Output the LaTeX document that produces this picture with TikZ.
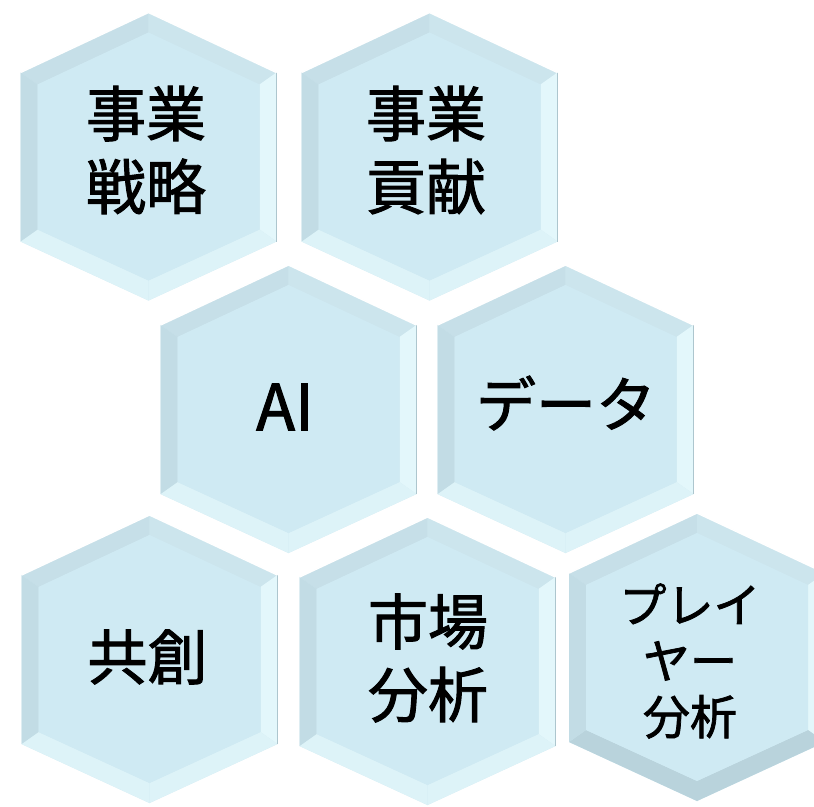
\documentclass[tikz,border=0pt]{standalone}
\usepackage{fontspec}
\newfontfamily\jpfont[FakeBold=1.6]{Noto Sans CJK JP}
\usetikzlibrary{calc}
\definecolor{hexbase}{HTML}{CFEAF3}
\definecolor{bevTL}{HTML}{C6DFE8}
\definecolor{bevTR}{HTML}{CCE5ED}
\definecolor{bevR}{HTML}{E3F7FB}
\definecolor{bevL}{HTML}{C2DCE5}
\definecolor{bevBL}{HTML}{DDF3F8}
\definecolor{bevBR}{HTML}{D5EEF5}
\definecolor{bevDark}{HTML}{B9D3DC}
\definecolor{hexedge}{HTML}{ADC6CE}
\tikzset{
  hexlabel/.style={font=\jpfont\fontsize{60}{73}\selectfont, align=center, text=black, inner sep=0pt},
  hexlabelsmall/.style={font=\jpfont\fontsize{47}{56}\selectfont, align=center, text=black, inner sep=0pt},
}
\newcommand{\hexcell}[5]{%
\begin{scope}[shift={(#1,#2)}]
  \coordinate (#3-o1) at (0,-144);
  \coordinate (#3-o2) at (128,-84);
  \coordinate (#3-o3) at (128,85);
  \coordinate (#3-o4) at (0,144);
  \coordinate (#3-o5) at (-128,85);
  \coordinate (#3-o6) at (-128,-84);
  \coordinate (#3-i1) at (0,-124);
  \coordinate (#3-i2) at (111,-72);
  \coordinate (#3-i3) at (111,73);
  \coordinate (#3-i4) at (0,124);
  \coordinate (#3-i5) at (-111,73);
  \coordinate (#3-i6) at (-111,-72);
  \fill[hexbase] (#3-o1)--(#3-o2)--(#3-o3)--(#3-o4)--(#3-o5)--(#3-o6)--cycle;
  \fill[bevTL] (#3-o6)--(#3-o1)--(#3-i1)--(#3-i6)--cycle;
  \fill[bevTR] (#3-o1)--(#3-o2)--(#3-i2)--(#3-i1)--cycle;
  \fill[bevR] (#3-o2)--(#3-o3)--(#3-i3)--(#3-i2)--cycle;
  \fill[#5] (#3-o3)--(#3-o4)--(#3-i4)--(#3-i3)--cycle;
  \fill[#5] (#3-o4)--(#3-o5)--(#3-i5)--(#3-i4)--cycle;
  \fill[bevL] (#3-o5)--(#3-o6)--(#3-i6)--(#3-i5)--cycle;
  \fill[hexbase] (#3-i1)--(#3-i2)--(#3-i3)--(#3-i4)--(#3-i5)--(#3-i6)--cycle;
  \draw[hexedge, line width=1.2pt] (#3-o2)--(#3-o3);
  \draw[white, line width=1.5pt] (#3-o6)--(#3-o1)--(#3-o2);
  \node[#4] (#3) at (0,0) {};
\end{scope}}
\begin{document}
\begin{tikzpicture}[x=1pt,y=-1pt]
\useasboundingbox (0,0) rectangle (814,806);
\fill[white] (0,0) rectangle (814,806);
\hexcell{148.5}{156.5}{h1}{inner sep=0pt}{bevBL}
\hexcell{429.5}{156.5}{h2}{inner sep=0pt}{bevBL}
\hexcell{288.5}{409}{h3}{inner sep=0pt}{bevBL}
\hexcell{565.5}{409}{h4}{inner sep=0pt}{bevBL}
\hexcell{149.5}{659}{h5}{inner sep=0pt}{bevBL}
\hexcell{427.5}{661}{h6}{inner sep=0pt}{bevBL}
\hexcell{697}{657}{h7}{inner sep=0pt}{bevDark}
\node[hexlabel] (t1) at (146,150) {事業\\戦略};
\node[hexlabel] (t2) at (426,150) {事業\\貢献};
\node[hexlabel, font=\jpfont\fontsize{64}{73}\selectfont] (t3) at (285,407) {AI};
\node[hexlabel] (t4) at (566,403) {データ};
\node[hexlabel] (t5) at (147.5,657) {共創};
\node[hexlabel] (t6) at (428,658) {市場\\分析};
\node[hexlabelsmall] (t7) at (690,661) {プレイ\\ヤー\\分析};
\end{tikzpicture}
\end{document}
